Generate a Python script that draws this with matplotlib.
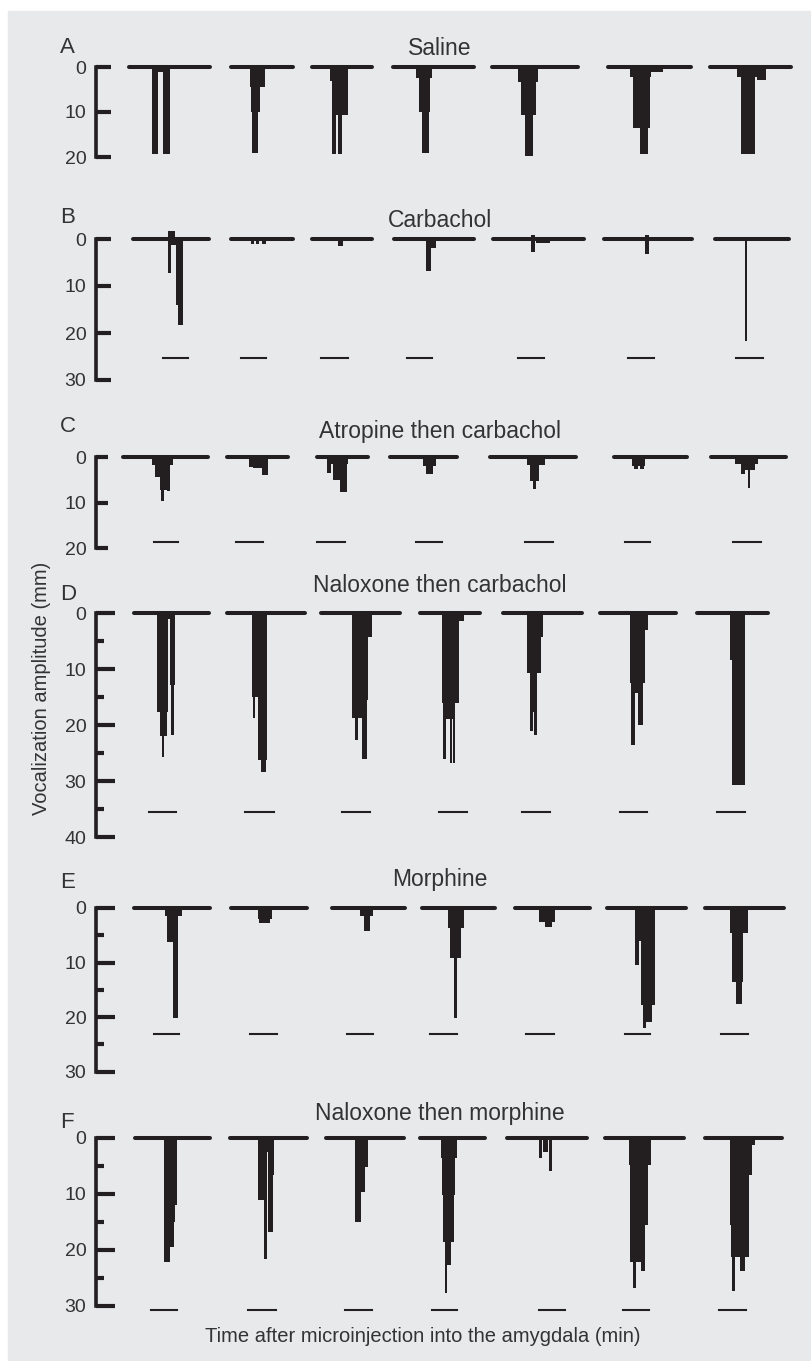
import matplotlib
matplotlib.use('Agg')
import matplotlib.pyplot as plt
from matplotlib.patches import Rectangle

plt.rcParams['font.family'] = ['Liberation Sans', 'DejaVu Sans']

W, H = 812, 1361
INK = '#231f20'
TXT = '#333333'
BG = '#e8e9eb'

# ------------------------------------------------------------
# data (x = time in picture units, depth in mm)
# ------------------------------------------------------------
letters = ['A', 'B', 'C', 'D', 'E', 'F']
titles = ['Saline', 'Carbachol', 'Atropine then carbachol',
          'Naloxone then carbachol', 'Morphine', 'Naloxone then morphine']
y_max = [20, 30, 20, 40, 30, 30]
minor_ticks = [False, False, False, True, True, True]

# baseline segments (start, end) of each of the 7 recordings
base_A = [(129, 210), (231, 293), (312, 372), (393, 474), (492, 578), (608, 691), (710, 791)]
base_B = [(133, 209), (231, 293), (312, 372), (394, 474), (493, 584), (604, 692), (715, 789)]
base_C = [(123, 208), (227, 288), (317, 368), (390, 457), (490, 576), (614, 687), (711, 786)]
base_D = [(134, 209), (227, 305), (321, 400), (420, 480), (503, 582), (600, 676), (697, 768)]
base_E = [(134, 210), (231, 307), (332, 405), (422, 495), (515, 590), (607, 686), (705, 784)]
base_F = [(135, 210), (230, 307), (326, 404), (420, 485), (507, 587), (605, 684), (705, 782)]

# vocalization bursts: (start, end, amplitude mm)
bars_A = [
    [(152, 158, 19.3), (158, 163, 1.0), (163, 170, 19.3)],
    [(250, 265, 4.5), (251, 260, 10), (252, 258, 19.1)],
    [(330, 334, 3), (333, 348, 10.7), (332, 336, 19.3), (338, 342, 19.3)],
    [(416, 432, 2.4), (419, 430, 10), (422, 429, 19.1)],
    [(518, 538, 3.3), (521, 536, 10.7), (525, 533, 19.8)],
    [(630, 651, 2.2), (633, 650, 13.6), (640, 648, 19.3), (651, 663, 1.0)],
    [(737, 757, 2.2), (741, 755, 19.3), (757, 766, 2.9)],
]
bars_B = [
    [(168, 175, -1.7), (168, 171, 7.2), (168, 182, 1.2), (176, 183, 14), (178, 183, 18.3)],
    [(251, 254, 1.1), (256, 259, 1.1), (262, 266, 1.1)],
    [(338, 343, 1.5)],
    [(426, 431, 6.8), (431, 436, 1.9)],
    [(531, 535, -0.9), (531, 535, 2.8), (536, 550, 0.9)],
    [(645, 649, -0.9), (645, 649, 3.2)],
    [(745, 747.5, 21.7)],
]
bars_C = [
    [(152, 173, 1.8), (155, 168, 4.4), (160, 167, 7.3), (161, 164, 9.6), (167, 170, 7.5)],
    [(249, 253, 2.2), (253, 262, 2.4), (262, 268, 4.0)],
    [(327, 331, 3.5), (331, 348, 1.5), (333, 340, 5.0), (340, 347, 7.7)],
    [(423, 436, 2.0), (426, 433, 3.7)],
    [(527, 545, 1.8), (530, 539, 5.2), (533, 536, 7.0)],
    [(632, 645, 2.0), (634, 638, 2.7), (640, 644, 2.7)],
    [(735, 758, 1.5), (741, 745, 3.7), (745, 755, 2.8), (748, 750, 6.8)],
]
bars_D = [
    [(157, 168, 17.6), (160, 167, 22), (162, 164, 25.7), (170, 175, 12.8), (171, 174, 21.8), (168, 170, 1.0)],
    [(252, 258, 15), (253, 255, 18.8), (258, 267, 26.3), (261, 266, 28.4)],
    [(352, 372, 4.3), (352, 368, 15.5), (352, 362, 18.8), (355, 358, 22.7), (362, 367, 26)],
    [(442, 459, 16), (445, 455, 19), (443, 446, 26), (450, 452, 26.8), (453, 455, 26.8), (459, 464, 1.5)],
    [(527, 541, 10.7), (530, 537, 17.7), (530, 533, 21), (534, 537, 21.8), (537, 543, 4.3)],
    [(630, 645, 12.5), (632, 643, 14.3), (631, 635, 23.6), (638, 643, 20), (645, 648, 3)],
    [(730, 745, 8.4), (732, 745, 30.7)],
]
bars_E = [
    [(165, 182, 1.5), (167, 176, 6.2), (173, 178, 20.2)],
    [(258, 272, 2.0), (259, 270, 2.8)],
    [(360, 373, 1.5), (364, 370, 4.2)],
    [(448, 464, 3.7), (450, 461, 9.2), (454, 457, 20.2)],
    [(539, 555, 2.6), (545, 552, 3.5)],
    [(635, 655, 6), (635, 639, 10.5), (641, 655, 17.8), (643, 652, 21), (643, 646, 22.1)],
    [(730, 748, 4.6), (732, 743, 13.6), (736, 742, 17.6)],
]
bars_F = [
    [(164, 177, 12), (164, 175, 15), (165, 174, 19.5), (164, 170, 22.1)],
    [(258, 274, 2.5), (258, 264, 11), (264, 267, 21.6), (268, 273, 16.8), (270, 274, 6.6)],
    [(355, 368, 5.2), (355, 365, 9.6), (355, 361, 15)],
    [(441, 457, 3.6), (442, 455, 10.2), (443, 454, 18.6), (445, 451, 22.7), (445, 447, 27.6)],
    [(539, 542, 3.6), (543, 548, 2.5), (549, 552, 5.9)],
    [(629, 651, 4.8), (630, 648, 15.5), (630, 645, 22.1), (633, 636, 26.8), (641, 645, 23.8)],
    [(730, 755, 1.3), (730, 752, 6.6), (730, 748, 15.5), (731, 749, 21.2), (740, 745, 23.8), (732, 735, 27.3)],
]

# injection-time markers under each recording
mark_A = [(142, 170), (241, 266), (322, 349), (407, 432), (519, 544), (628, 654), (738, 765)]
mark_B = [(163, 188), (241, 266), (321, 348), (407, 432), (518, 544), (628, 654), (736, 763)]
mark_C = [(154, 178), (236, 263), (317, 345), (416, 442), (525, 553), (625, 650), (733, 761)]
mark_D = [(149, 176), (245, 274), (342, 370), (439, 467), (522, 550), (620, 647), (717, 745)]
mark_E = [(154, 179), (250, 277), (347, 373), (430, 457), (526, 554), (625, 650), (721, 748)]
mark_F = [(151, 177), (248, 276), (345, 372), (432, 457), (539, 565), (623, 649), (719, 746)]
mark_depth = [23.5, 25.3, 18.7, 35.5, 23.1, 30.7]

baselines = [base_A, base_B, base_C, base_D, base_E, base_F]
bursts = [bars_A, bars_B, bars_C, bars_D, bars_E, bars_F]
markers = [mark_A, mark_B, mark_C, mark_D, mark_E, mark_F]

# layout (pixels): zero line of each panel and px per mm
zero_px = [67, 239, 457, 613, 908, 1138]
px_mm = [4.5, 4.7, 4.55, 5.6, 5.45, 5.6]
tick_len = [11, 11, 8.5, 14, 14, 14]
title_y = [55, 227, 438, 592, 886, 1120]
letter_y = [53, 223, 432, 600, 888, 1128]

fig = plt.figure(figsize=(W / 100, H / 100), dpi=100)
fig.patch.set_facecolor('white')
fig.add_artist(Rectangle((8 / W, 1 - 1360 / H), (W - 8) / W, (1360 - 11) / H,
                         transform=fig.transFigure, color=BG, zorder=-10))


def fx(x):
    return x / W


def fy(y):
    return 1 - y / H


for i in range(6):
    y0, s, ym = zero_px[i], px_mm[i], y_max[i]
    top = y0 - 4 * s
    bot = y0 + (ym + 2) * s
    ax = fig.add_axes([0, fy(bot), 1, (bot - top) / H])
    ax.set_facecolor('none')
    ax.set_xlim(0, W)
    ax.set_ylim(ym + 2, -4)

    for (a, b) in baselines[i]:
        ax.plot([a, b], [0, 0], color=INK, lw=2.9, solid_capstyle='round')
    for trace in bursts[i]:
        ax.bar([t[0] for t in trace], [t[2] for t in trace],
               width=[t[1] - t[0] for t in trace], align='edge',
               color=INK, linewidth=0)
    for (a, b) in markers[i]:
        ax.plot([a, b], [mark_depth[i]] * 2, color=INK, lw=1.5)

    for side in ['top', 'right', 'bottom']:
        ax.spines[side].set_visible(False)
    ax.spines['left'].set_position(('data', 96))
    ax.spines['left'].set_bounds(0, ym)
    ax.spines['left'].set_linewidth(2.6)
    ax.spines['left'].set_color(INK)
    ax.set_xticks([])
    ax.set_yticks(list(range(0, ym + 1, 10)))
    ax.tick_params(axis='y', direction='in', length=tick_len[i], width=3,
                   color=INK, labelcolor=TXT, labelsize=14, pad=7)
    if minor_ticks[i]:
        ax.set_yticks(list(range(5, ym, 10)), minor=True)
        ax.tick_params(axis='y', which='minor', direction='in', length=5.5,
                       width=3, color=INK)

    fig.text(fx(440), fy(title_y[i]), titles[i], ha='center', va='baseline',
             fontsize=16.5, color=TXT)
    fig.text(fx(60), fy(letter_y[i]), letters[i], ha='left', va='baseline',
             fontsize=16, color=TXT)

fig.text(fx(42), fy(688), 'Vocalization amplitude (mm)', rotation=90,
         ha='center', va='center', fontsize=14.5, color=TXT)
fig.text(fx(423), fy(1342), 'Time after microinjection into the amygdala (min)',
         ha='center', va='baseline', fontsize=14.5, color=TXT)

fig.savefig('out.png', dpi=100)
